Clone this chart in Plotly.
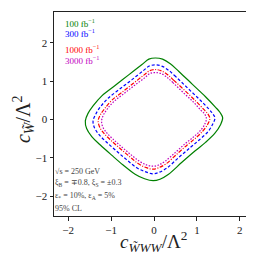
import plotly.graph_objects as go

# Contour points, closed curves
x_100 = [0.89, 0.58, 0.38, 0.20, 0.03, -0.12, -0.28, -0.59, -0.90, -1.21, -1.42, -1.54, -1.60, -1.57, -1.45, -1.25, -0.98, -0.72, -0.44, -0.22, -0.02, 0.14, 0.34, 0.65, 0.96, 1.20, 1.42, 1.55, 1.60, 1.54, 1.43, 1.20, 0.89]
y_100 = [0.92, 1.25, 1.45, 1.57, 1.60, 1.57, 1.43, 1.16, 0.89, 0.62, 0.35, 0.15, -0.04, -0.24, -0.45, -0.67, -0.94, -1.19, -1.43, -1.55, -1.60, -1.56, -1.43, -1.12, -0.82, -0.60, -0.36, -0.14, 0.04, 0.18, 0.32, 0.59, 0.92]

x_300 = [0.79, 0.51, 0.34, 0.18, 0.03, -0.11, -0.25, -0.52, -0.80, -1.07, -1.26, -1.36, -1.42, -1.39, -1.28, -1.11, -0.87, -0.64, -0.39, -0.19, -0.02, 0.12, 0.30, 0.58, 0.85, 1.06, 1.26, 1.37, 1.42, 1.36, 1.27, 1.06, 0.79]
y_300 = [0.81, 1.11, 1.28, 1.39, 1.42, 1.39, 1.27, 1.03, 0.79, 0.55, 0.31, 0.13, -0.04, -0.21, -0.40, -0.59, -0.83, -1.05, -1.27, -1.37, -1.42, -1.38, -1.27, -0.99, -0.73, -0.53, -0.32, -0.12, 0.04, 0.16, 0.28, 0.52, 0.81]

x_1000 = [0.72, 0.47, 0.31, 0.16, 0.02, -0.10, -0.23, -0.48, -0.73, -0.98, -1.15, -1.25, -1.30, -1.27, -1.17, -1.01, -0.79, -0.58, -0.36, -0.18, -0.02, 0.11, 0.28, 0.53, 0.78, 0.97, 1.15, 1.26, 1.30, 1.25, 1.16, 0.97, 0.72]
y_1000 = [0.75, 1.01, 1.17, 1.27, 1.30, 1.27, 1.16, 0.94, 0.72, 0.50, 0.28, 0.12, -0.03, -0.19, -0.36, -0.54, -0.76, -0.96, -1.16, -1.26, -1.30, -1.26, -1.16, -0.91, -0.66, -0.49, -0.29, -0.11, 0.03, 0.15, 0.26, 0.48, 0.75]

x_3000 = [0.68, 0.44, 0.29, 0.15, 0.02, -0.09, -0.21, -0.45, -0.69, -0.93, -1.09, -1.18, -1.22, -1.20, -1.11, -0.96, -0.75, -0.55, -0.34, -0.17, -0.02, 0.11, 0.26, 0.50, 0.73, 0.92, 1.09, 1.19, 1.22, 1.18, 1.09, 0.92, 0.68]
y_3000 = [0.70, 0.96, 1.11, 1.20, 1.22, 1.20, 1.09, 0.89, 0.68, 0.47, 0.27, 0.11, -0.03, -0.18, -0.34, -0.51, -0.72, -0.91, -1.09, -1.19, -1.22, -1.19, -1.09, -0.86, -0.63, -0.46, -0.28, -0.11, 0.03, 0.14, 0.24, 0.45, 0.70]

labels = ["100 fb<sup>−1</sup>", "300 fb<sup>−1</sup>", "1000 fb<sup>−1</sup>", "3000 fb<sup>−1</sup>"]
tick_vals = [-2, -1, 0, 1, 2]
tick_text = ["−2", "−1", "0", "1", "2"]
info_lines = ["√s = 250 GeV", "ξ<sub>B</sub> = ∓0.8, ξ<sub>S</sub> = ±0.3",
              "ε<sub>*</sub> = 10%, ε<sub>A</sub> = 5%", "95% CL"]

colors = ["#008000", "#0000ff", "#ff0000", "#bf00bf"]
dashes = ["solid", "3px,2px", "4px,1.5px,1px,1.5px", "1.5px,1.5px"]
curves = [(x_100, y_100), (x_300, y_300), (x_1000, y_1000), (x_3000, y_3000)]

FONT = "Liberation Serif"
fig = go.Figure()
for (cx, cy), c, d in zip(curves, colors, dashes):
    fig.add_trace(go.Scatter(x=cx, y=cy, mode="lines",
                             line=dict(color=c, width=1.2, dash=d, shape="spline", smoothing=1.0),
                             showlegend=False, hoverinfo="skip"))

ax = dict(showline=True, mirror=True, linecolor="#222", linewidth=1,
          ticks="outside", ticklen=3.5, tickwidth=1, tickcolor="#222",
          showgrid=False, zeroline=False, tickvals=tick_vals, ticktext=tick_text,
          tickfont=dict(family=FONT, size=11, color="#222"))
fig.update_xaxes(range=[-2.33, 2.4], **ax)
fig.update_yaxes(range=[-2.52, 2.8], **ax)

ann = []
leg_y = [0.946, 0.895, 0.821, 0.765]
for t, c, yy in zip(labels, colors, leg_y):
    ann.append(dict(x=0.044, y=yy, xref="paper", yref="paper", text=t, showarrow=False,
                    xanchor="left", yanchor="middle", font=dict(family=FONT, size=9, color=c)))
info_y = [0.22, 0.162, 0.098, 0.039]
for t, yy in zip(info_lines, info_y):
    ann.append(dict(x=-0.005, y=yy, xref="paper", yref="paper", text=t, showarrow=False,
                    xanchor="left", yanchor="middle", font=dict(family=FONT, size=8, color="#444")))
ann.append(dict(x=0.49, y=-0.125, xref="paper", yref="paper",
                text="<i>c</i><sub><i>W̃WW</i></sub>/Λ<sup>2</sup>", showarrow=False,
                xanchor="center", yanchor="middle", font=dict(family=FONT, size=19, color="#222")))
ann.append(dict(x=-0.148, y=0.475, xref="paper", yref="paper",
                text="<i>c</i><sub><i>W̃</i></sub>/Λ<sup>2</sup>", showarrow=False, textangle=-90,
                xanchor="center", yanchor="middle", font=dict(family=FONT, size=20, color="#222")))

fig.update_layout(width=254, height=254, margin=dict(l=46, r=5, t=4, b=46),
                  paper_bgcolor="white", plot_bgcolor="white", annotations=ann)
fig.write_html("out.html")
